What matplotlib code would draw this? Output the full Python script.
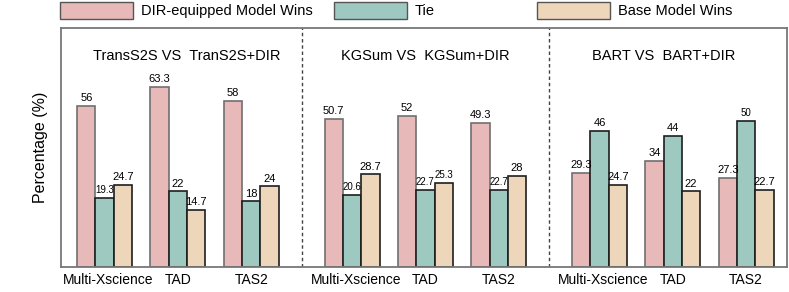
import numpy as np
import matplotlib.pyplot as plt
import matplotlib.transforms as mtransforms
from matplotlib.patches import Patch

plt.rcParams['font.family'] = ['Liberation Sans', 'DejaVu Sans']

# data
comparisons = ['TransS2S VS  TranS2S+DIR', 'KGSum VS  KGSum+DIR', 'BART VS  BART+DIR']
datasets = ['Multi-Xscience', 'TAD', 'TAS2']
series_names = ['DIR-equipped Model Wins', 'Tie', 'Base Model Wins']

dir_wins = [56, 63.3, 58, 50.7, 52, 49.3, 29.3, 34, 27.3]
tie = [19.3, 22, 18, 20.6, 22.7, 22.7, 46, 44, 50]
base_wins = [24.7, 14.7, 24, 28.7, 25.3, 28, 24.7, 22, 22.7]

colors = ['#e7b9b9', '#9dc9c1', '#eed6bb']
edges = ['#707070', '#1e1e1e', '#1e1e1e']

# labels drawn a bit smaller in the original
small = {(1, 0), (1, 3), (1, 4), (1, 5), (2, 4), (1, 8)}

ymin, ymax = -8.0, 86.8

fig = plt.figure(figsize=(7.89, 2.92), dpi=100)
ax = fig.add_axes([61 / 789, 25 / 292, 726 / 789, 239 / 292])

centers = np.array([g * 13.5 + j * 4 for g in range(3) for j in range(3)], dtype=float)
all_series = [dir_wins, tie, base_wins]
for k, vals in enumerate(all_series):
    vals = np.array(vals)
    xs = centers + (k - 1)
    ax.bar(xs, vals - ymin, bottom=ymin, width=1.0, color=colors[k],
           edgecolor=edges[k], linewidth=1.2, zorder=2)
    for i, (x, v) in enumerate(zip(xs, vals)):
        fs = 7 if (k, i) in small else 8
        ax.annotate(f'{v:g}', (x, v), xytext=(0, 2), textcoords='offset points',
                    ha='center', va='bottom', fontsize=fs, zorder=3)

# separators between the comparisons
for g in range(2):
    ax.axvline(g * 13.5 + 10.75, color='#444444', linestyle=(0, (2.5, 2)), lw=1.0)

for g, name in enumerate(comparisons):
    ax.text(g * 13.5 + [4.5, 4.0, 3.5][g], 75.5, name, ha='center', va='center', fontsize=10.5)

ax.set_xlim(-2.38, 37.23)
ax.set_ylim(ymin, ymax)
ax.set_xticks(centers)
ax.set_xticklabels(datasets * 3, fontsize=10)
ax.tick_params(axis='x', length=0, pad=4)
# the long dataset name sits a little right of its group in the original
shift = mtransforms.ScaledTranslation(4 / 100, 0, fig.dpi_scale_trans)
for lab in ax.get_xticklabels()[::3]:
    lab.set_transform(lab.get_transform() + shift)
ax.set_yticks([])
ax.set_ylabel('Percentage (%)', fontsize=11.5, labelpad=9)
for s in ax.spines.values():
    s.set_color('#777777')
    s.set_linewidth(1.3)

# legend entries placed one by one along the top
handle_x = [60, 334, 537]
for name, c, hx in zip(series_names, colors, handle_x):
    fig.legend(handles=[Patch(facecolor=c, edgecolor='#555555', linewidth=1.0, label=name)],
               loc='center left', bbox_to_anchor=(hx / 789, 1 - 10.5 / 292),
               frameon=False, borderpad=0, borderaxespad=0, handlelength=5,
               handleheight=1.5, handletextpad=0.55, fontsize=10.5)

fig.savefig('out.png', dpi=100)
